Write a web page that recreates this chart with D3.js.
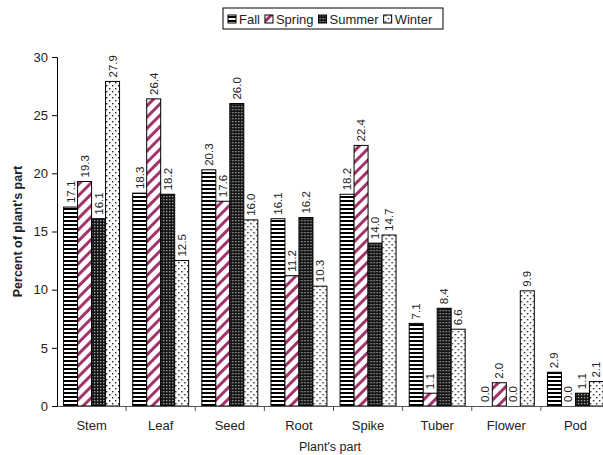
<!DOCTYPE html>
<html>
<head>
<meta charset="utf-8">
<script src="https://cdn.jsdelivr.net/npm/d3@7"></script>
<style>
  body { margin: 0; background: #fff; }
  text { font-family: "Liberation Sans", Arial, sans-serif; fill: #222; }
</style>
</head>
<body>
<svg id="chart" width="603" height="455"></svg>
<script>
// data
const parts = ["Stem", "Leaf", "Seed", "Root", "Spike", "Tuber", "Flower", "Pod"]
const seasons = ["Fall", "Spring", "Summer", "Winter"]
const fall = [17.1, 18.3, 20.3, 16.1, 18.2, 7.1, 0.0, 2.9]
const spring = [19.3, 26.4, 17.6, 11.2, 22.4, 1.1, 2.0, 0.0]
const summer = [16.1, 18.2, 26.0, 16.2, 14.0, 8.4, 0.0, 1.1]
const winter = [27.9, 12.5, 16.0, 10.3, 14.7, 6.6, 9.9, 2.1]
const yTicks = [0, 5, 10, 15, 20, 25, 30]

const seriesValues = [fall, spring, summer, winter]
const svg = d3.select('#chart')
const margin = { left: 57, right: -7, top: 57, bottom: 49 }
const width = 603, height = 455

// patterns for the four fills
const defs = svg.append('defs')

let p = defs.append('pattern').attr('id', 'pat-Fall').attr('patternUnits', 'userSpaceOnUse')
    .attr('width', 4).attr('height', 4)
p.append('rect').attr('width', 4).attr('height', 4).attr('fill', '#fff')
p.append('rect').attr('width', 4).attr('height', 2).attr('fill', '#000')

p = defs.append('pattern').attr('id', 'pat-Spring').attr('patternUnits', 'userSpaceOnUse')
    .attr('width', 8).attr('height', 8).attr('patternTransform', 'rotate(45)')
p.append('rect').attr('width', 8).attr('height', 8).attr('fill', '#fff')
p.append('rect').attr('width', 3).attr('height', 8).attr('fill', '#a2336b')

p = defs.append('pattern').attr('id', 'pat-Summer').attr('patternUnits', 'userSpaceOnUse')
    .attr('width', 3).attr('height', 3)
p.append('rect').attr('width', 3).attr('height', 3).attr('fill', '#151515')
p.append('rect').attr('x', 1).attr('y', 1).attr('width', 1.3).attr('height', 1.3).attr('fill', '#aaa')

p = defs.append('pattern').attr('id', 'pat-Winter').attr('patternUnits', 'userSpaceOnUse')
    .attr('width', 6).attr('height', 6)
p.append('rect').attr('width', 6).attr('height', 6).attr('fill', '#fff')
p.append('rect').attr('x', 1).attr('y', 1).attr('width', 1.4).attr('height', 1.4).attr('fill', '#222')
p.append('rect').attr('x', 4).attr('y', 4).attr('width', 1.4).attr('height', 1.4).attr('fill', '#222')

// scales
const x = d3.scaleBand()
    .domain(parts)
    .range([margin.left, width - margin.right])
    .paddingInner(0).paddingOuter(0)

const xInner = d3.scaleBand()
    .domain(seasons)
    .range([0, x.bandwidth()])
    .paddingOuter(0.47)

const y = d3.scaleLinear()
    .domain([0, 30])
    .range([height - margin.bottom, margin.top])

// bars
const groups = svg.append('g').selectAll('g')
    .data(parts)
    .join('g')
    .attr('transform', d => `translate(${x(d)},0)`)

groups.selectAll('rect')
    .data((d, i) => seasons.map((s, j) => ({ season: s, value: seriesValues[j][i] })))
    .join('rect')
    .attr('x', d => xInner(d.season))
    .attr('width', xInner.bandwidth())
    .attr('y', d => y(d.value))
    .attr('height', d => y(0) - y(d.value))
    .attr('fill', d => `url(#pat-${d.season})`)
    .attr('stroke', '#000')
    .attr('stroke-width', 1)

// value labels, rotated
groups.selectAll('text')
    .data((d, i) => seasons.map((s, j) => ({ season: s, value: seriesValues[j][i] })))
    .join('text')
    .attr('transform', d => `translate(${xInner(d.season) + xInner.bandwidth() / 2 + 4},${y(d.value) - 4}) rotate(-90)`)
    .attr('font-size', 11.5)
    .text(d => d.value.toFixed(1))

// axes
const yAxis = svg.append('g')
    .attr('transform', `translate(${margin.left},0)`)
    .call(d3.axisLeft(y).tickValues(yTicks).tickSize(5).tickPadding(4))
yAxis.selectAll('text').attr('font-size', 13).style('font-family', '"Liberation Sans", Arial, sans-serif').attr('fill', '#222')
yAxis.select('.domain').attr('stroke', '#000')

const xAxis = svg.append('g')
    .attr('transform', `translate(0,${y(0)})`)
    .call(d3.axisBottom(x).tickSize(0).tickPadding(15))
xAxis.selectAll('text').attr('font-size', 13).style('font-family', '"Liberation Sans", Arial, sans-serif').attr('fill', '#222')
xAxis.select('.domain').attr('stroke', '#555')
xAxis.selectAll('.sep')
    .data(parts.slice(1))
    .join('line')
    .attr('class', 'sep')
    .attr('x1', d => x(d)).attr('x2', d => x(d))
    .attr('y1', 0).attr('y2', 5)
    .attr('stroke', '#555')

// axis titles
svg.append('text')
    .attr('transform', `translate(22,${(y(0) + y(30)) / 2}) rotate(-90)`)
    .attr('text-anchor', 'middle')
    .attr('font-size', 12.5)
    .attr('font-weight', 'bold')
    .text("Percent of plant's part")

svg.append('text')
    .attr('x', 330)
    .attr('y', 451)
    .attr('text-anchor', 'middle')
    .attr('font-size', 12.5)
    .text("Plant's part")

// legend
const legend = svg.append('g').attr('transform', 'translate(223,8)')
legend.append('rect')
    .attr('width', 220).attr('height', 21)
    .attr('fill', '#fff').attr('stroke', '#000')
const items = legend.selectAll('g.item')
    .data(seasons)
    .join('g')
    .attr('class', 'item')
let offset = 5
items.each(function (d) {
    const g = d3.select(this).attr('transform', `translate(${offset},0)`)
    g.append('rect')
        .attr('x', 0).attr('y', 7)
        .attr('width', 8).attr('height', 8)
        .attr('fill', `url(#pat-${d})`)
        .attr('stroke', '#000')
    const t = g.append('text')
        .attr('x', 11).attr('y', 15.5)
        .attr('font-size', 13)
        .text(d)
    offset += 11 + t.node().getComputedTextLength() + 5
})
</script>
</body>
</html>
